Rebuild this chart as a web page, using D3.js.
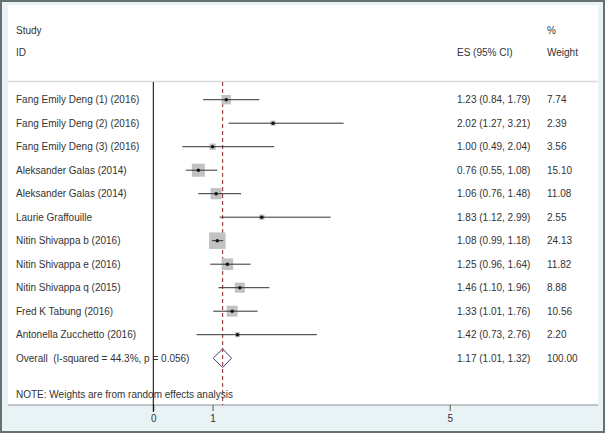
<!DOCTYPE html>
<html>
<head>
<meta charset="utf-8">
<script src="https://cdn.jsdelivr.net/npm/d3@7"></script>
<style>
  html, body { margin: 0; padding: 0; background: #fff; }
  svg { display: block; }
  text { font-family: "Liberation Sans", Arial, sans-serif; font-size: 10px; fill: #333; }
</style>
</head>
<body>
<svg id="chart" width="605" height="433"></svg>
<script>
const studies = [
  "Fang Emily Deng (1) (2016)",
  "Fang Emily Deng (2) (2016)",
  "Fang Emily Deng (3) (2016)",
  "Aleksander Galas (2014)",
  "Aleksander Galas (2014)",
  "Laurie Graffouille",
  "Nitin Shivappa b (2016)",
  "Nitin Shivappa e (2016)",
  "Nitin Shivappa q (2015)",
  "Fred K Tabung (2016)",
  "Antonella Zucchetto (2016)"
];
const es = [1.23, 2.02, 1.00, 0.76, 1.06, 1.83, 1.08, 1.25, 1.46, 1.33, 1.42];
const lower = [0.84, 1.27, 0.49, 0.55, 0.76, 1.12, 0.99, 0.96, 1.10, 1.01, 0.73];
const upper = [1.79, 3.21, 2.04, 1.08, 1.48, 2.99, 1.18, 1.64, 1.96, 1.76, 2.76];
const weights = ["7.74", "2.39", "3.56", "15.10", "11.08", "2.55", "24.13", "11.82", "8.88", "10.56", "2.20"];
const overallLabel = "Overall  (I-squared = 44.3%, p = 0.056)";
const overall = { es: 1.17, lo: 1.01, hi: 1.32, weight: "100.00" };
const tickValues = [0, 1, 5];
const note = "NOTE: Weights are from random effects analysis";

const svg = d3.select("#chart");
const W = 605, H = 433;

// outer background & frame
svg.append("rect").attr("x", 0).attr("y", 0).attr("width", W).attr("height", H).attr("fill", "#e9f2f4");
svg.append("rect").attr("x", 1).attr("y", 1).attr("width", W - 2).attr("height", H - 2)
  .attr("fill", "none").attr("stroke", "#667272").attr("stroke-width", 2);

// white plot panel
const panel = { x0: 8, x1: 598, y0: 5, y1: 405 };
svg.append("rect").attr("x", panel.x0).attr("y", panel.y0)
  .attr("width", panel.x1 - panel.x0).attr("height", panel.y1 - panel.y0).attr("fill", "#fff");

const x = d3.scaleLinear().domain([0, 5]).range([153.3, 449.7]);
const y = d3.scaleLinear().domain([0, 11]).range([99.7, 358.2]);
const fmt = d3.format(".2f");

// header
const hdr = svg.append("g");
hdr.append("text").attr("x", 16).attr("y", 30).attr("dy", "0.35em").text("Study");
hdr.append("text").attr("x", 16).attr("y", 52).attr("dy", "0.35em").text("ID");
hdr.append("text").attr("x", 457).attr("y", 52).attr("dy", "0.35em").text("ES (95% CI)");
hdr.append("text").attr("x", 547).attr("y", 30).attr("dy", "0.35em").text("%");
hdr.append("text").attr("x", 547).attr("y", 52).attr("dy", "0.35em").text("Weight");

// header separator
svg.append("line").attr("x1", panel.x0).attr("x2", panel.x1).attr("y1", 81.5).attr("y2", 81.5)
  .attr("stroke", "#d9dcdc").attr("stroke-width", 1.5);

// axis line
svg.append("line").attr("x1", panel.x0).attr("x2", panel.x1).attr("y1", panel.y1).attr("y2", panel.y1)
  .attr("stroke", "#8c8f8f").attr("stroke-width", 1.2);

// axis ticks
const axis = d3.axisBottom(x).tickValues(tickValues).tickSize(6).tickPadding(4).tickFormat(d3.format("d"));
const ax = svg.append("g").attr("transform", `translate(0,${panel.y1})`).call(axis);
ax.select(".domain").remove();
ax.selectAll(".tick line").attr("stroke", "#555");
ax.selectAll(".tick text").style("font-family", '"Liberation Sans", Arial, sans-serif')
  .style("font-size", "10px").attr("fill", "#333");

// null line at 0
svg.append("line").attr("x1", x(0)).attr("x2", x(0)).attr("y1", 82).attr("y2", 412)
  .attr("stroke", "#000").attr("stroke-width", 1);

// overall dashed line
svg.append("line").attr("x1", x(overall.es)).attr("x2", x(overall.es)).attr("y1", 82).attr("y2", panel.y1)
  .attr("stroke", "#8b2323").attr("stroke-width", 1).attr("stroke-dasharray", "4,3");

// study rows
const maxW = d3.max(weights, d => +d);
const side = d3.scaleSqrt().domain([0, maxW]).range([0, 16.5]);
const rows = svg.append("g");
studies.forEach((s, i) => {
  const yy = y(i);
  rows.append("text").attr("x", 16).attr("y", yy).attr("dy", "0.35em").text(s);
  const sz = side(+weights[i]);
  rows.append("rect").attr("x", x(es[i]) - sz / 2).attr("y", yy - sz / 2)
    .attr("width", sz).attr("height", sz).attr("fill", "#c2c2c2");
  rows.append("line").attr("x1", x(lower[i])).attr("x2", x(upper[i])).attr("y1", yy).attr("y2", yy)
    .attr("stroke", "#333").attr("stroke-width", 1);
  rows.append("circle").attr("cx", x(es[i])).attr("cy", yy).attr("r", 1.7).attr("fill", "#111");
  rows.append("text").attr("x", 457).attr("y", yy).attr("dy", "0.35em")
    .text(`${fmt(es[i])} (${fmt(lower[i])}, ${fmt(upper[i])})`);
  rows.append("text").attr("x", 547).attr("y", yy).attr("dy", "0.35em").text(weights[i]);
});

// overall row
const yo = y(studies.length);
svg.append("text").attr("x", 16).attr("y", yo).attr("dy", "0.35em")
  .attr("xml:space", "preserve").style("white-space", "pre").text(overallLabel);
const dh = 9.3;
svg.append("path")
  .attr("d", `M${x(overall.lo)},${yo} L${x(overall.es)},${yo - dh} L${x(overall.hi)},${yo} L${x(overall.es)},${yo + dh} Z`)
  .attr("fill", "none").attr("stroke", "#463c7d").attr("stroke-width", 1);
svg.append("text").attr("x", 457).attr("y", yo).attr("dy", "0.35em")
  .text(`${fmt(overall.es)} (${fmt(overall.lo)}, ${fmt(overall.hi)})`);
svg.append("text").attr("x", 547).attr("y", yo).attr("dy", "0.35em").text(overall.weight);

// note
svg.append("text").attr("x", 16).attr("y", 394.5).attr("dy", "0.35em").text(note);
</script>
</body>
</html>
